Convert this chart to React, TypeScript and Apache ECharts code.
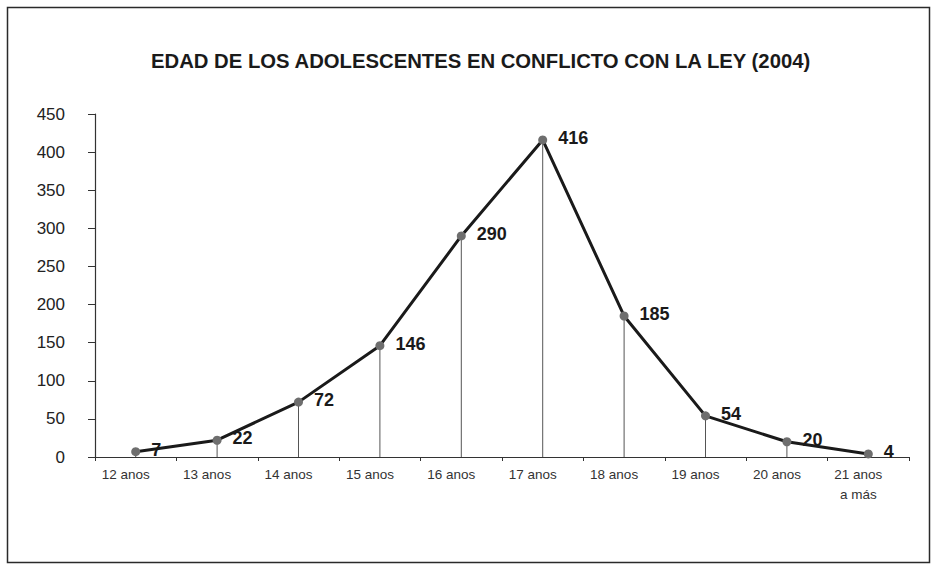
import React, { useEffect, useRef } from "react";
import * as echarts from "echarts";

const categories = ["12 anos", "13 anos", "14 anos", "15 anos", "16 anos", "17 anos", "18 anos", "19 anos", "20 anos", "21 anos\na más"];
const values = [7, 22, 72, 146, 290, 416, 185, 54, 20, 4];
const titleText = "EDAD DE LOS ADOLESCENTES EN CONFLICTO CON LA LEY (2004)";

export default function App() {
  const ref = useRef<HTMLDivElement>(null);
  useEffect(() => {
    const chart = echarts.init(ref.current!, null, { renderer: "svg" });
    const font = "Liberation Sans, Arial, sans-serif";
    chart.setOption({
      animation: false,
      backgroundColor: "#fff",
      textStyle: { fontFamily: font },
      title: {
        text: titleText,
        left: 146,
        top: 46,
        textStyle: { fontSize: 20.3, fontWeight: "bold", color: "#1a1a1a", fontFamily: font },
      },
      graphic: [
        { type: "rect", shape: { x: 7.5, y: 7.5, width: 922, height: 555 }, style: { fill: "none", stroke: "#2a2a2a", lineWidth: 1.5 } },
      ],
      grid: { left: 95, right: 26, top: 114, bottom: 108, containLabel: false },
      xAxis: {
        type: "category",
        data: categories,
        boundaryGap: true,
        axisLine: { lineStyle: { color: "#333", width: 1.2 } },
        axisTick: { show: true, length: 4, lineStyle: { color: "#333" } },
        axisLabel: { fontSize: 13.5, color: "#333", margin: 7, lineHeight: 20, padding: [0, 20, 0, 0] },
      },
      yAxis: {
        type: "value",
        min: 0,
        max: 450,
        interval: 50,
        axisLine: { show: true, lineStyle: { color: "#333", width: 1.2 } },
        axisTick: { show: true, length: 7, lineStyle: { color: "#333" } },
        splitLine: { show: false },
        axisLabel: { fontSize: 17, color: "#222", margin: 30 },
      },
      series: [
        {
          type: "bar",
          data: values,
          barWidth: 1,
          itemStyle: { color: "#555" },
          silent: true,
        },
        {
          type: "line",
          data: values,
          symbol: "circle",
          symbolSize: 9,
          lineStyle: { color: "#1a1a1a", width: 3 },
          itemStyle: { color: "#6e6e6e" },
          label: {
            show: true,
            position: "right",
            distance: 11,
            offset: [0, -2],
            fontSize: 18,
            fontWeight: "bold",
            color: "#1a1a1a",
          },
          z: 3,
        },
      ],
    });
    return () => chart.dispose();
  }, []);
  return <div ref={ref} style={{ position: "absolute", left: 0, top: 0, width: 935, height: 565 }} />;
}
